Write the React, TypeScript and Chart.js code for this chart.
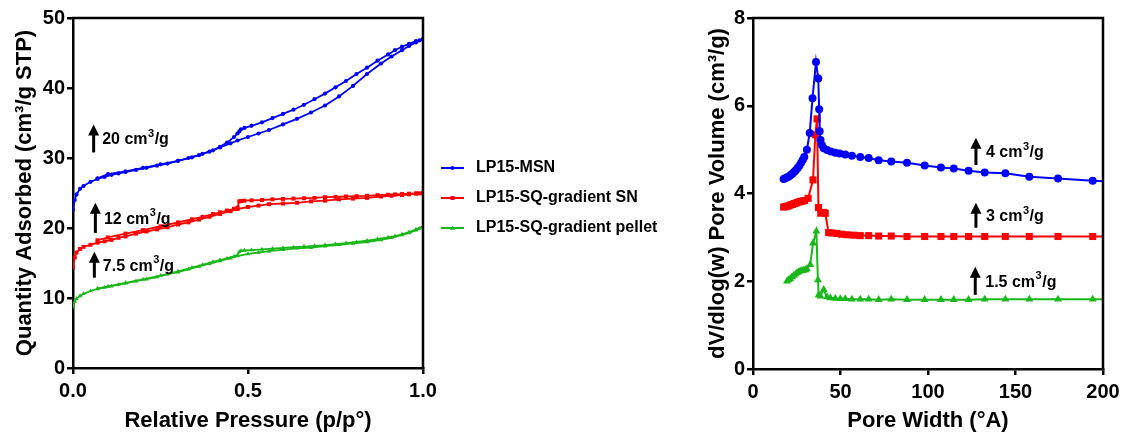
import React, { useEffect, useRef } from "react";
import { Chart, registerables } from "chart.js";

Chart.register(...registerables);

const FONT = '"Liberation Sans", Arial, Helvetica, sans-serif';

// ---------- Isotherm data (left panel) ----------
const adsP = [0, 0.005, 0.01, 0.02, 0.03, 0.05, 0.07, 0.09, 0.11, 0.13, 0.15, 0.18, 0.21, 0.24, 0.27, 0.3, 0.33, 0.36, 0.39, 0.42, 0.45, 0.47, 0.5, 0.53, 0.56, 0.6, 0.64, 0.68, 0.72, 0.76, 0.8, 0.84, 0.88, 0.91, 0.94, 0.96, 0.98, 0.99, 1.0];
const msnAds = [22.6, 24.0, 24.8, 25.6, 26.0, 26.6, 27.0, 27.3, 27.6, 27.8, 28.0, 28.3, 28.6, 28.9, 29.2, 29.6, 30.0, 30.4, 30.9, 31.5, 32.1, 32.5, 33.0, 33.5, 34.0, 34.8, 35.6, 36.5, 37.5, 38.8, 40.3, 42.0, 43.5, 44.5, 45.4, 46.0, 46.5, 46.8, 47.0];
const snAds = [14.4, 15.8, 16.5, 17.0, 17.3, 17.6, 17.9, 18.1, 18.3, 18.6, 18.8, 19.2, 19.5, 19.8, 20.1, 20.5, 20.8, 21.2, 21.6, 22.0, 22.4, 22.7, 23.0, 23.2, 23.4, 23.5, 23.6, 23.8, 23.9, 24.1, 24.2, 24.3, 24.5, 24.6, 24.7, 24.8, 24.9, 24.95, 25.0];
const pelletAds = [8.7, 9.5, 9.9, 10.3, 10.6, 11.0, 11.3, 11.5, 11.7, 11.9, 12.1, 12.4, 12.7, 13.0, 13.4, 13.7, 14.1, 14.5, 14.9, 15.3, 15.7, 16.0, 16.3, 16.5, 16.7, 16.9, 17.1, 17.2, 17.4, 17.6, 17.8, 18.0, 18.3, 18.6, 19.0, 19.3, 19.7, 19.95, 20.2];

const desP = [1.0, 0.98, 0.96, 0.94, 0.92, 0.9, 0.87, 0.84, 0.81, 0.78, 0.75, 0.72, 0.69, 0.66, 0.63, 0.6, 0.57, 0.54, 0.51, 0.49, 0.48, 0.475, 0.47, 0.46, 0.44, 0.42, 0.4, 0.37, 0.34, 0.3, 0.25, 0.2, 0.15, 0.1, 0.07];
const msnDes = [47.0, 46.7, 46.3, 45.9, 45.4, 44.8, 43.9, 42.9, 42.0, 41.0, 40.1, 39.2, 38.4, 37.6, 36.9, 36.3, 35.7, 35.1, 34.6, 34.3, 34.1, 33.8, 33.5, 33.0, 32.2, 31.6, 31.1, 30.6, 30.1, 29.6, 29.1, 28.6, 28.1, 27.7, 27.1];
const snDes = [25.0, 24.95, 24.9, 24.85, 24.8, 24.75, 24.7, 24.6, 24.55, 24.5, 24.45, 24.4, 24.3, 24.25, 24.2, 24.15, 24.1, 24.0, 23.95, 23.9, 23.85, 23.8, 22.9, 22.75, 22.5, 22.25, 22.0, 21.6, 21.25, 20.8, 20.25, 19.7, 19.2, 18.65, 18.25];
const pelletDes = [20.2, 19.8, 19.4, 19.1, 18.85, 18.65, 18.4, 18.2, 18.0, 17.85, 17.7, 17.55, 17.45, 17.35, 17.25, 17.15, 17.05, 16.95, 16.85, 16.8, 16.75, 16.6, 16.1, 15.95, 15.65, 15.4, 15.15, 14.75, 14.35, 13.8, 13.2, 12.65, 12.15, 11.65, 11.35];

// ---------- Pore size distribution (right panel) ----------
const msnW = [17.5, 18.5, 19.5, 20.5, 21.5, 22.5, 23.5, 24.5, 25.5, 26.5, 27.5, 28.5, 29.3, 30.8, 32.4, 34.0, 36.0, 37.3, 37.8, 38.1, 38.6, 39.4, 40.4, 42.3, 44.5, 47.0, 49.5, 52.7, 56.5, 61.3, 66.1, 71.8, 79.0, 88.0, 98.1, 107.4, 114.7, 123.2, 132.4, 144.2, 157.9, 174.3, 194.1, 220];
const msnV = [4.33, 4.35, 4.37, 4.39, 4.42, 4.45, 4.49, 4.53, 4.58, 4.63, 4.7, 4.77, 4.83, 5.0, 5.38, 6.17, 7.0, 6.62, 5.92, 5.42, 5.22, 5.1, 5.03, 4.99, 4.96, 4.93, 4.91, 4.89, 4.86, 4.83, 4.81, 4.76, 4.73, 4.7, 4.64, 4.59, 4.57, 4.52, 4.48, 4.46, 4.38, 4.34, 4.29, 4.25];
const snW = [17.5, 18.5, 19.5, 20.5, 21.5, 22.5, 23.5, 24.5, 25.5, 26.5, 27.5, 28.5, 29.5, 31.5, 34.3, 35.6, 36.6, 37.4, 38.7, 40.4, 41.3, 43.2, 45.1, 48.0, 50.8, 53.7, 57.5, 61.3, 66.1, 71.8, 79.0, 88.0, 98.1, 107.4, 114.7, 123.2, 132.4, 144.2, 157.9, 174.3, 194.1, 220];
const snV = [3.69, 3.7, 3.71, 3.72, 3.74, 3.75, 3.77, 3.78, 3.8, 3.81, 3.82, 3.83, 3.84, 3.89, 4.31, 5.34, 5.7, 3.68, 3.55, 3.57, 3.55, 3.11, 3.1, 3.09, 3.07, 3.06, 3.05, 3.04, 3.04, 3.03, 3.03, 3.02, 3.02, 3.02, 3.02, 3.02, 3.02, 3.02, 3.02, 3.02, 3.02, 3.02];
const pelletW = [19.4, 20.3, 21.3, 22.3, 23.3, 24.2, 25.1, 26.0, 27.0, 28.0, 28.9, 29.9, 30.8, 32.7, 34.3, 36.2, 37.1, 37.5, 38.5, 40.4, 42.3, 44.2, 47.0, 49.9, 52.7, 56.5, 61.3, 66.1, 71.8, 79.0, 88.0, 98.1, 107.4, 114.7, 123.2, 132.4, 144.2, 157.9, 174.3, 194.1, 220];
const pelletV = [2.0, 2.03, 2.06, 2.1, 2.13, 2.16, 2.19, 2.21, 2.23, 2.24, 2.25, 2.26, 2.28, 2.38, 2.87, 3.14, 2.03, 1.69, 1.66, 1.81, 1.64, 1.62, 1.61, 1.6, 1.6, 1.59, 1.59, 1.59, 1.58, 1.59, 1.58, 1.58, 1.58, 1.58, 1.58, 1.59, 1.59, 1.59, 1.59, 1.59, 1.59];

// ---------- Series meta ----------
const seriesNames = ["LP15-MSN", "LP15-SQ-gradient SN", "LP15-SQ-gradient pellet"];
const seriesColors = ["#0000ff", "#ff0000", "#1bb81b"];
const seriesMarkers = ["circle", "rect", "triangle"];

// ---------- Offset annotations (data units) ----------
const leftShiftText = ["20", "12", "7.5"];
const leftShiftX = [0.059, 0.064, 0.061];
const leftShiftTop = [34.8, 23.6, 16.6];
const leftShiftBottom = [30.8, 19.3, 12.9];

const rightShiftText = ["4", "3", "1.5"];
const rightShiftX = [127.4, 127.4, 127.0];
const rightShiftTop = [5.27, 3.79, 2.33];
const rightShiftBottom = [4.65, 3.22, 1.69];

// ---------- Axis settings ----------
const leftXRange = [0, 1];
const leftXStep = 0.5;
const leftYRange = [0, 50];
const leftYStep = 10;
const rightXRange = [0, 200];
const rightXStep = 50;
const rightYRange = [0, 8];
const rightYStep = 2;

const zip = (xs: number[], ys: number[]) => xs.map((x, i) => ({ x, y: ys[i] }));

function drawShiftLabel(ctx: CanvasRenderingContext2D, x: number, y: number, num: string) {
  ctx.save();
  ctx.fillStyle = "#000";
  ctx.textAlign = "left";
  ctx.textBaseline = "middle";
  ctx.font = `bold 16px ${FONT}`;
  const a = num + " cm";
  ctx.fillText(a, x, y);
  let w = ctx.measureText(a).width;
  ctx.font = `bold 11px ${FONT}`;
  ctx.fillText("3", x + w + 0.5, y - 6);
  w += ctx.measureText("3").width + 1;
  ctx.font = `bold 16px ${FONT}`;
  ctx.fillText("/g", x + w, y);
  ctx.restore();
}

function drawArrow(ctx: CanvasRenderingContext2D, x: number, top: number, bottom: number) {
  ctx.save();
  ctx.strokeStyle = "#000";
  ctx.fillStyle = "#000";
  ctx.lineWidth = 3;
  ctx.beginPath();
  ctx.moveTo(x, bottom);
  ctx.lineTo(x, top + 8);
  ctx.stroke();
  ctx.beginPath();
  ctx.moveTo(x, top);
  ctx.lineTo(x - 5.5, top + 11);
  ctx.lineTo(x + 5.5, top + 11);
  ctx.closePath();
  ctx.fill();
  ctx.restore();
}

function makeShiftPlugin(texts: string[], xs: number[], tops: number[], bottoms: number[], textDx: number) {
  return {
    id: "shiftLabels",
    afterDatasetsDraw(chart: any) {
      const ctx = chart.ctx as CanvasRenderingContext2D;
      const sx = chart.scales.x;
      const sy = chart.scales.y;
      texts.forEach((t, i) => {
        const px = sx.getPixelForValue(xs[i]);
        const pt = sy.getPixelForValue(tops[i]);
        const pb = sy.getPixelForValue(bottoms[i]);
        drawArrow(ctx, px, pt, pb);
        drawShiftLabel(ctx, px + textDx, (pt + pb) / 2 + 1.5, t);
      });
    },
  };
}

const framePlugin = {
  id: "frame",
  afterDraw(chart: any) {
    const { ctx, chartArea } = chart;
    ctx.save();
    ctx.strokeStyle = "#000";
    ctx.lineWidth = 2.5;
    ctx.beginPath();
    ctx.moveTo(chartArea.left - 1.25, chartArea.top);
    ctx.lineTo(chartArea.right, chartArea.top);
    ctx.lineTo(chartArea.right, chartArea.bottom + 1.25);
    ctx.stroke();
    ctx.restore();
  },
};

const legendPlugin = {
  id: "customLegend",
  afterDraw(chart: any) {
    const ctx = chart.ctx as CanvasRenderingContext2D;
    const x0 = chart.chartArea.right + 18;
    const x1 = x0 + 23;
    const tx = x1 + 12;
    const yc = (chart.chartArea.top + chart.chartArea.bottom) / 2;
    ctx.save();
    seriesNames.forEach((name, i) => {
      const y = yc - 25 + i * 30;
      ctx.strokeStyle = seriesColors[i];
      ctx.fillStyle = seriesColors[i];
      ctx.lineWidth = 2;
      ctx.beginPath();
      ctx.moveTo(x0, y);
      ctx.lineTo(x1, y);
      ctx.stroke();
      const mx = (x0 + x1) / 2;
      ctx.beginPath();
      if (seriesMarkers[i] === "circle") ctx.arc(mx, y, 2, 0, Math.PI * 2);
      else if (seriesMarkers[i] === "rect") ctx.rect(mx - 2, y - 2, 4, 4);
      else {
        ctx.moveTo(mx, y - 2.5);
        ctx.lineTo(mx - 2.5, y + 1.8);
        ctx.lineTo(mx + 2.5, y + 1.8);
        ctx.closePath();
      }
      ctx.fill();
      ctx.fillStyle = "#000";
      ctx.font = `bold 16px ${FONT}`;
      ctx.textAlign = "left";
      ctx.textBaseline = "middle";
      ctx.fillText(name, tx, y);
    });
    ctx.restore();
  },
};

function axisCommon() {
  return {
    grid: {
      display: true,
      drawOnChartArea: false,
      drawTicks: true,
      tickLength: 6,
      tickWidth: 2.5,
      tickColor: "#000",
      color: "#000",
      lineWidth: 2.5,
    },
    border: { display: true, color: "#000", width: 2.5 },
  };
}

function buildLeft(canvas: HTMLCanvasElement) {
  const datasets: any[] = [];
  const ads = [msnAds, snAds, pelletAds];
  const des = [msnDes, snDes, pelletDes];
  const radii = [2.1, 2.8, 2.6];
  for (let i = 0; i < 3; i++) {
    [zip(adsP, ads[i]), zip(desP, des[i])].forEach((data) => {
      datasets.push({
        data,
        showLine: true,
        borderColor: seriesColors[i],
        backgroundColor: seriesColors[i],
        borderWidth: 1.8,
        pointStyle: seriesMarkers[i],
        pointRadius: radii[i],
        pointBorderWidth: 0,
        tension: 0,
      });
    });
  }
  return new Chart(canvas, {
    type: "scatter",
    data: { datasets },
    plugins: [framePlugin, legendPlugin, makeShiftPlugin(leftShiftText, leftShiftX, leftShiftTop, leftShiftBottom, 8.5)],
    options: {
      responsive: false,
      animation: false,
      events: [],
      layout: { padding: { top: 18, right: 267, left: 0, bottom: 0 } },
      plugins: { legend: { display: false }, tooltip: { enabled: false } },
      scales: {
        x: {
          type: "linear",
          min: leftXRange[0],
          max: leftXRange[1],
          ...axisCommon(),
          afterFit: (s: any) => { s.height = 68; },
          ticks: {
            stepSize: leftXStep,
            color: "#000",
            padding: 5,
            font: { family: FONT, size: 20, weight: "bold" },
            callback: (v: any) => Number(v).toFixed(1),
          },
          title: {
            display: true,
            text: "Relative Pressure (p/p°)",
            color: "#000",
            font: { family: FONT, size: 22, weight: "bold" },
            padding: { top: 0, bottom: 2 },
          },
        },
        y: {
          type: "linear",
          min: leftYRange[0],
          max: leftYRange[1],
          ...axisCommon(),
          afterFit: (s: any) => { s.width = 73; },
          ticks: {
            stepSize: leftYStep,
            color: "#000",
            padding: 2,
            font: { family: FONT, size: 20, weight: "bold" },
          },
          title: {
            display: true,
            text: "Quantity Adsorbed (cm³/g STP)",
            color: "#000",
            font: { family: FONT, size: 22, weight: "bold" },
            padding: { top: 12, bottom: 0 },
          },
        },
      },
    } as any,
  });
}

function buildRight(canvas: HTMLCanvasElement) {
  const ws = [msnW, snW, pelletW];
  const vs = [msnV, snV, pelletV];
  const radii = [4, 5, 4.6];
  const datasets = ws.map((w, i) => ({
    data: zip(w, vs[i]),
    showLine: true,
    borderColor: seriesColors[i],
    backgroundColor: seriesColors[i],
    borderWidth: 2,
    pointStyle: seriesMarkers[i],
    pointRadius: radii[i],
    pointBorderWidth: 0,
    tension: 0,
  }));
  return new Chart(canvas, {
    type: "scatter",
    data: { datasets },
    plugins: [framePlugin, makeShiftPlugin(rightShiftText, rightShiftX, rightShiftTop, rightShiftBottom, 10)],
    options: {
      responsive: false,
      animation: false,
      events: [],
      layout: { padding: { top: 18, right: 22, left: 0, bottom: 0 } },
      plugins: { legend: { display: false }, tooltip: { enabled: false } },
      scales: {
        x: {
          type: "linear",
          min: rightXRange[0],
          max: rightXRange[1],
          ...axisCommon(),
          afterFit: (s: any) => { s.height = 67; },
          ticks: {
            stepSize: rightXStep,
            color: "#000",
            padding: 5,
            font: { family: FONT, size: 20, weight: "bold" },
          },
          title: {
            display: true,
            text: "Pore Width (°A)",
            color: "#000",
            font: { family: FONT, size: 22, weight: "bold" },
            padding: { top: 0, bottom: 2 },
          },
        },
        y: {
          type: "linear",
          min: rightYRange[0],
          max: rightYRange[1],
          ...axisCommon(),
          afterFit: (s: any) => { s.width = 63; },
          ticks: {
            stepSize: rightYStep,
            color: "#000",
            padding: 2,
            font: { family: FONT, size: 20, weight: "bold" },
          },
          title: {
            display: true,
            text: "dV/dlog(w) Pore Volume (cm³/g)",
            color: "#000",
            font: { family: FONT, size: 22, weight: "bold" },
            padding: { top: 15, bottom: 0 },
          },
        },
      },
    } as any,
  });
}

export default function App() {
  const leftRef = useRef<HTMLCanvasElement>(null);
  const rightRef = useRef<HTMLCanvasElement>(null);

  useEffect(() => {
    const c1 = buildLeft(leftRef.current as HTMLCanvasElement);
    const c2 = buildRight(rightRef.current as HTMLCanvasElement);
    return () => {
      c1.destroy();
      c2.destroy();
    };
  }, []);

  return (
    <div style={{ position: "absolute", left: 0, top: 0, width: 1125, height: 436, background: "#fff" }}>
      <canvas ref={leftRef} width={690} height={436} style={{ position: "absolute", left: 0, top: 0, width: 690, height: 436 }} />
      <canvas ref={rightRef} width={435} height={436} style={{ position: "absolute", left: 690, top: 0, width: 435, height: 436 }} />
    </div>
  );
}
